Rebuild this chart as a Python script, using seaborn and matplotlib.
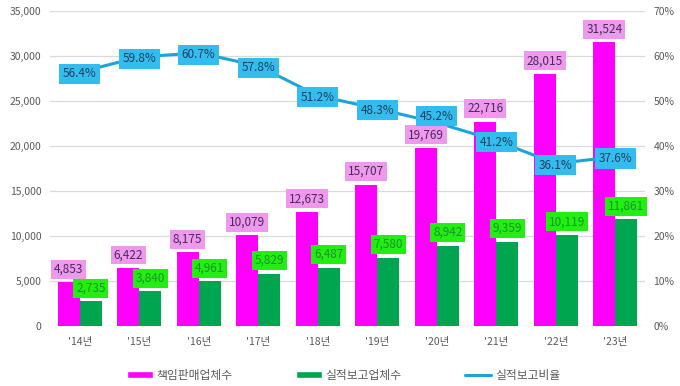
import numpy as np
import pandas as pd
import matplotlib
matplotlib.use('Agg')
import matplotlib.pyplot as plt
import matplotlib.ticker as mticker
from matplotlib.patches import Patch
from matplotlib.lines import Line2D
import seaborn as sns

# === 데이터 ===
years = ["'14년", "'15년", "'16년", "'17년", "'18년", "'19년", "'20년", "'21년", "'22년", "'23년"]
sellers = [4853, 6422, 8175, 10079, 12673, 15707, 19769, 22716, 28015, 31524]
reporters = [2735, 3840, 4961, 5829, 6487, 7580, 8942, 9359, 10119, 11861]
ratio = [56.4, 59.8, 60.7, 57.8, 51.2, 48.3, 45.2, 41.2, 36.1, 37.6]

S1, S2, S3 = '책임판매업체수', '실적보고업체수', '실적보고비율'
C_MAG, C_GRN, C_LINE = '#ff00ff', '#00a550', '#1fa3d6'

df = pd.DataFrame({'연도': years * 2,
                   '업체수': sellers + reporters,
                   '구분': [S1] * len(years) + [S2] * len(years)})

sns.set_style('white')
plt.rcParams['font.family'] = ['Noto Sans CJK KR', 'DejaVu Sans']

fig = plt.figure(figsize=(6.8, 3.86), dpi=100)
ax = fig.add_axes([0.0735, 0.1554, 0.875, 0.816])

sns.barplot(data=df, x='연도', y='업체수', hue='구분', palette=[C_MAG, C_GRN],
            width=0.74, gap=0, ax=ax, legend=False, saturation=1, linewidth=0)
ax.set_xlim(-0.5, 9.5)
ax.set_ylim(0, 35000)
ax.set_yticks(range(0, 35001, 5000))
ax.yaxis.set_major_formatter(mticker.FuncFormatter(lambda v, _: f'{v:,.0f}'))
ax.grid(axis='y', color='#d9d9d9', lw=0.9)
ax.set_axisbelow(True)
ax.set_xlabel(''); ax.set_ylabel('')
for s in ax.spines.values():
    s.set_visible(False)
ax.tick_params(length=0, labelsize=7.5, labelcolor='#595959')
ax.tick_params(axis='x', pad=8)
ax.tick_params(axis='y', pad=6)

# 비율 선 (오른쪽 축)
ax2 = ax.twinx()
sns.lineplot(x=np.arange(len(years)), y=ratio, color=C_LINE, lw=2.2, ax=ax2, zorder=3)
ax2.set_ylim(0, 70)
ax2.set_xlim(-0.5, 9.5)
ax2.set_yticks(range(0, 71, 10))
ax2.yaxis.set_major_formatter(mticker.FuncFormatter(lambda v, _: f'{v:.0f}%'))
for s in ax2.spines.values():
    s.set_visible(False)
ax2.tick_params(length=0, labelsize=7.5, labelcolor='#595959', pad=6)

# 막대 라벨 (선 위에 그려지도록 ax2에 표시)
for cont, fc, tc in [(ax.containers[0], '#ee99ee', '#4a2a5a'), (ax.containers[1], '#22ee11', '#1f8f2f')]:
    for bar in cont:
        h = bar.get_height()
        ax2.annotate(f'{h:,.0f}', (bar.get_x() + bar.get_width() / 2, h), xycoords=ax.transData,
                     xytext=(0, 9.5), textcoords='offset points', ha='center', va='center',
                     fontsize=8.5, color=tc, zorder=5,
                     bbox=dict(boxstyle='square,pad=0.25', fc=fc, ec='none'))

# 비율 라벨 ('20년 라벨은 원본처럼 약간 위로)
for i, r in enumerate(ratio):
    dy = 4.5 if i == 6 else -1.2
    ax2.annotate(f'{r:.1f}%', (i, r), xytext=(0, dy), textcoords='offset points',
                 ha='center', va='center', fontsize=8.5, color='#1f3f5f', zorder=6,
                 bbox=dict(boxstyle='square,pad=0.3', fc='#33bdee', ec='none'))

handles = [Patch(fc=C_MAG), Patch(fc=C_GRN), Line2D([], [], color=C_LINE, lw=2.2)]
fig.legend(handles, [S1, S2, S3], loc='center', bbox_to_anchor=(0.505, 0.028), ncol=3,
           frameon=False, fontsize=8.5, labelcolor='#595959', handlelength=2.2,
           handleheight=0.6, handletextpad=0.3, columnspacing=5.4)

plt.savefig('out.png', dpi=100)
